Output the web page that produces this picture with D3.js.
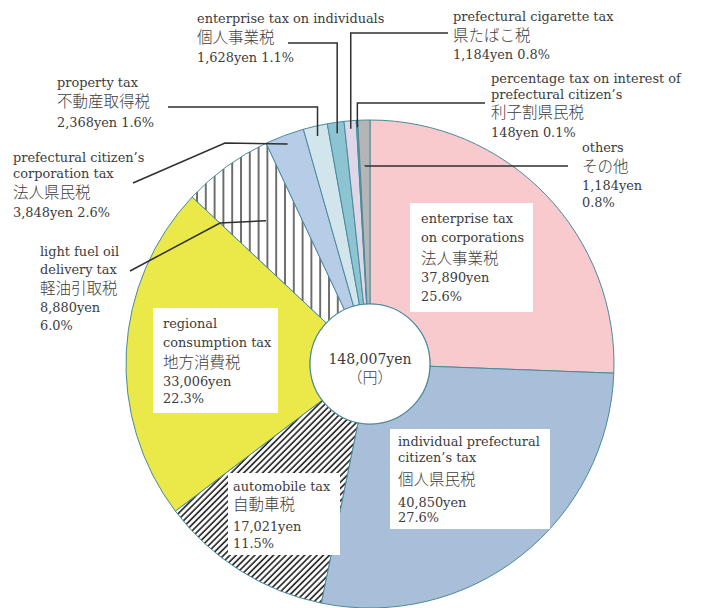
<!DOCTYPE html>
<html><head><meta charset="utf-8">
<script src="https://cdn.jsdelivr.net/npm/d3@7"></script>
<style>
html,body{margin:0;padding:0;background:#fff;}
svg{display:block;}
</style></head>
<body>
<svg id="chart" width="710" height="608"></svg>
<script>
// ---- data ----
const categoriesEn = [
  "enterprise tax|on corporations",
  "individual prefectural|citizen\u2019s tax",
  "automobile tax",
  "regional|consumption tax",
  "light fuel oil|delivery tax",
  "prefectural citizen\u2019s|corporation tax",
  "property tax",
  "enterprise tax on individuals",
  "prefectural cigarette tax",
  "percentage tax on interest of|prefectural citizen\u2019s",
  "others"
];
const categoriesJa = ["法人事業税","個人県民税","自動車税","地方消費税","軽油引取税","法人県民税","不動産取得税","個人事業税","県たばこ税","利子割県民税","その他"];
const values = [37890, 40850, 17021, 33006, 8880, 3848, 2368, 1628, 1184, 148, 1184];
const fills = ["#f9cacd","#a9bed8","url(#hatchDiag)","#ebe84a","url(#hatchVert)","#b7cce6","#d2e5ec","#8cc5d1","#ddd7e8","#5f9fae","#b5b5b5"];
const totalUnit = "（円）";

// ---- layout ----
const W = 710, H = 608, cx = 370, cy = 364, R = 244, r0 = 60;
const SERIF = "'DejaVu Serif','Liberation Serif',serif";
const JA = "'Noto Sans CJK JP',sans-serif";
const layout = [
  {x:421, ys:[223,242,264,282,301], box:[410,203,533,312], split:true},
  {x:398, ys:[446,462,485,507,522], box:[390,429,550,529], split:true},
  {x:233, ys:[491,510,531,548], box:[228,473,340,555], split:true},
  {x:163, ys:[328,347,368,386,403], box:[153,308,278,413], split:true},
  {x:40,  ys:[256,274,294,312,330], split:true, leader:{start:[130,271], mid:[220,223], r:177, type:"diag"}},
  {x:13,  ys:[162,178,198,217], split:false, leader:{start:[133,183], mid:[225,143], r:235, type:"diag"}},
  {x:57,  ys:[87,107,127], split:false, leader:{start:[168,107], r:234, type:"elbow"}},
  {x:197, ys:[23,43,62], split:false, leader:{start:[288,43], r:233, type:"elbow"}},
  {x:453, ys:[21,41,59], split:false, leader:{start:[448,33], r:236, type:"elbow"}},
  {x:491, ys:[83,99,118,137], split:false, leader:{start:[485,103], r:237, type:"elbow"}},
  {x:582, ys:[152,172,190,207], split:true, leader:{start:[568,166], r:198, type:"elbow"}}
];

const svg = d3.select("#chart");
const defs = svg.append("defs");
const pd = defs.append("pattern").attr("id","hatchDiag").attr("patternUnits","userSpaceOnUse")
  .attr("width",4.4).attr("height",10).attr("patternTransform","rotate(45)");
pd.append("rect").attr("width",4.4).attr("height",10).attr("fill","#fff");
pd.append("line").attr("x1",1).attr("x2",1).attr("y1",0).attr("y2",10).attr("stroke","#1e1e1e").attr("stroke-width",1.6);
const pv = defs.append("pattern").attr("id","hatchVert").attr("patternUnits","userSpaceOnUse")
  .attr("width",8.8).attr("height",10).attr("x",2);
pv.append("rect").attr("width",8.8).attr("height",10).attr("fill","#fff");
pv.append("line").attr("x1",1).attr("x2",1).attr("y1",0).attr("y2",10).attr("stroke","#111").attr("stroke-width",1.2);

const total = d3.sum(values);
const pie = d3.pie().sort(null).value(d => d)(values);
const arc = d3.arc().innerRadius(r0).outerRadius(R);
const g = svg.append("g").attr("transform",`translate(${cx},${cy})`);

g.selectAll("path.slice").data(pie).join("path").attr("class","slice")
  .attr("d", arc).attr("fill", (d,i) => fills[i])
  .attr("stroke","#4a8a9c").attr("stroke-width",1).attr("stroke-linejoin","round");
g.append("circle").attr("r", r0).attr("fill","#fff").attr("stroke","#4a8a9c").attr("stroke-width",1.2);

const fmt = d3.format(",");
const pfmt = d3.format(".1%");
layout.forEach((L,i) => {
  if (!L.leader) return;
  const c = d3.arc().innerRadius(L.leader.r).outerRadius(L.leader.r).centroid(pie[i]);
  const ex = cx + c[0], ey = cy + c[1];
  let pts;
  if (L.leader.type === "diag") pts = [L.leader.start, L.leader.mid, [ex, ey]];
  else pts = [L.leader.start, [ex, L.leader.start[1]], [ex, ey]];
  svg.append("path").attr("d", d3.line()(pts)).attr("fill","none")
    .attr("stroke","#2f2f2f").attr("stroke-width",1.5);
});

layout.forEach((L,i) => {
  if (L.box) {
    const b = L.box;
    svg.append("rect").attr("x",b[0]).attr("y",b[1]).attr("width",b[2]-b[0]).attr("height",b[3]-b[1]).attr("fill","#fff");
  }
  const lines = categoriesEn[i].split("|").map(s => ({t:s, ja:false}));
  lines.push({t:categoriesJa[i], ja:true});
  const v = fmt(values[i]) + "yen", p = pfmt(values[i]/total);
  if (L.split) { lines.push({t:v}); lines.push({t:p}); }
  else lines.push({t: v + " " + p});
  lines.forEach((ln,k) => {
    svg.append("text").attr("x",L.x).attr("y",L.ys[k])
      .attr("font-family", ln.ja ? JA : SERIF)
      .attr("font-size", ln.ja ? 15.5 : 12.9)
      .attr("font-weight", ln.ja ? 300 : 400)
      .attr("fill","#3c3c3c")
      .text(ln.t);
  });
});

svg.append("text").attr("x",cx).attr("y",cy).attr("text-anchor","middle")
  .attr("font-family",SERIF).attr("font-size",14).attr("fill","#3c3c3c").text(fmt(total)+"yen");
svg.append("text").attr("x",cx).attr("y",cy+19).attr("text-anchor","middle")
  .attr("font-family",JA).attr("font-weight",300).attr("font-size",15).attr("fill","#3c3c3c").text(totalUnit);
</script>
</body></html>
